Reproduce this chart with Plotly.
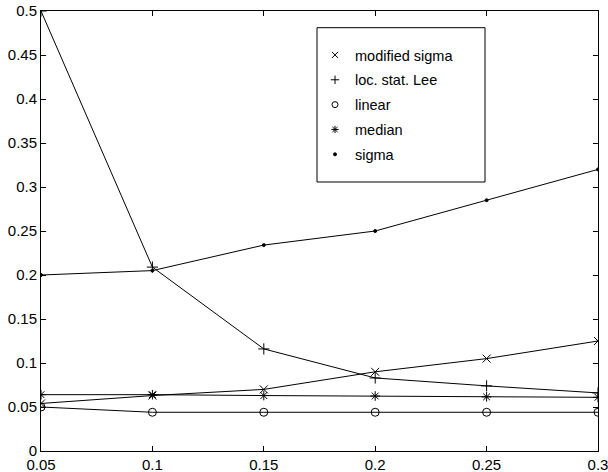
import plotly.graph_objects as go

x_vals = [0.05, 0.1, 0.15, 0.2, 0.25, 0.3]
modified_sigma = [0.054, 0.063, 0.070, 0.090, 0.105, 0.125]
loc_stat_lee = [0.500, 0.209, 0.116, 0.083, 0.074, 0.066]
linear = [0.050, 0.044, 0.044, 0.044, 0.044, 0.044]
median = [0.064, 0.064, 0.063, 0.0625, 0.0615, 0.061]
sigma = [0.200, 0.205, 0.234, 0.250, 0.285, 0.320]

series = [
    ("modified sigma", modified_sigma, "x-thin", 8, 6),
    ("loc. stat. Lee", loc_stat_lee, "cross-thin", 8, 6),
    ("linear", linear, "circle-open", 8, 6),
    ("median", median, "asterisk-open", 8, 6),
    ("sigma", sigma, "circle", 3, 3),
]

fig = go.Figure()
for i, (name, vals, sym, sz, lsz) in enumerate(series):
    fig.add_trace(go.Scatter(
        x=x_vals, y=vals, mode="lines+markers", name=name,
        line=dict(color="black", width=1),
        marker=dict(symbol=sym, size=sz, color="black",
                    line=dict(color="black", width=1)),
        showlegend=False,
    ))
    # legend-only entry showing just the marker
    fig.add_trace(go.Scatter(
        x=[None], y=[None], mode="markers", name=name,
        marker=dict(symbol=sym, size=lsz, color="black",
                    line=dict(color="black", width=1)),
        legendgroup=f"g{i}", showlegend=True,
    ))

tick_font = dict(family="Liberation Sans, Arial, sans-serif", size=15, color="black")
leg_font = dict(family="Liberation Sans, Arial, sans-serif", size=14.5, color="black")

fig.add_shape(type="rect", xref="paper", yref="paper",
              x0=(317 - 41) / 557, x1=(485 - 41) / 557,
              y0=(451 - 182) / 440, y1=(451 - 27.7) / 440,
              line=dict(color="black", width=1), fillcolor="white", layer="below")

fig.update_layout(
    width=608, height=472,
    margin=dict(l=41, r=10, t=11, b=21, autoexpand=False),
    paper_bgcolor="white", plot_bgcolor="white",
    font=tick_font,
    showlegend=True,
    legend=dict(x=(315 - 41) / 557, y=(451 - 39) / 440, xanchor="left", yanchor="top",
                bgcolor="rgba(0,0,0,0)", borderwidth=0, font=leg_font,
                tracegroupgap=3),
    xaxis=dict(range=[0.05, 0.3], tickvals=[0.05, 0.1, 0.15, 0.2, 0.25, 0.3],
               ticktext=["0.05", "0.1", "0.15", "0.2", "0.25", "0.3"],
               ticks="inside", ticklen=5, tickcolor="black", automargin=False,
               ticklabeloverflow="allow",
               showline=True, linecolor="black", linewidth=1, mirror="ticks",
               showgrid=False, zeroline=False, tickfont=tick_font),
    yaxis=dict(range=[0, 0.5], tickvals=[0, 0.05, 0.1, 0.15, 0.2, 0.25, 0.3, 0.35, 0.4, 0.45, 0.5],
               ticktext=["0", "0.05", "0.1", "0.15", "0.2", "0.25", "0.3", "0.35", "0.4", "0.45", "0.5"],
               ticks="inside", ticklen=5, tickcolor="black", automargin=False,
               ticklabeloverflow="allow",
               showline=True, linecolor="black", linewidth=1, mirror="ticks",
               showgrid=False, zeroline=False, tickfont=tick_font),
)

fig.write_html("out.html",
               config={"displayModeBar": False},
               post_script="document.body.style.margin='0';document.body.style.overflow='hidden';")
